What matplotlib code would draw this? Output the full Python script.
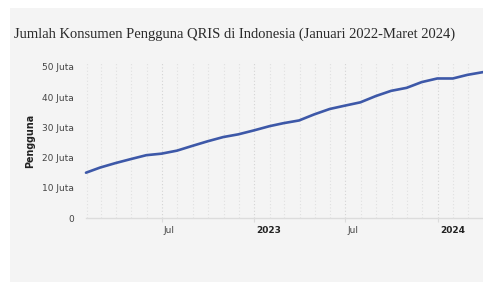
import matplotlib
matplotlib.use("Agg")
import matplotlib.pyplot as plt
import matplotlib.dates as mdates
import matplotlib.transforms as mtransforms
from matplotlib.patches import Rectangle
import pandas as pd
import numpy as np

# Data: monthly QRIS users (million), Jan 2022 - Mar 2024 (month-end dates)
months = pd.date_range("2022-01-31", "2024-03-31", freq="ME")
users_million = [15.0, 16.7, 18.2, 19.5, 20.8, 21.3, 22.3, 23.9, 25.4, 26.8, 27.7, 29.0,
                 30.4, 31.4, 32.3, 34.3, 36.1, 37.2, 38.3, 40.4, 42.1, 43.1, 45.0, 46.2,
                 46.2, 47.4, 48.3]
y_ticks = [0, 10, 20, 30, 40, 50]
y_tick_labels = ["0", "10 Juta", "20 Juta", "30 Juta", "40 Juta", "50 Juta"]
title = "Jumlah Konsumen Pengguna QRIS di Indonesia (Januari 2022-Maret 2024)"
y_label = "Pengguna"

W, H = 483, 282
fig = plt.figure(figsize=(W / 100, H / 100), dpi=100)
fig.patch.set_facecolor("white")
bg = "#f4f4f4"
fig.patches.append(Rectangle((10 / W, 0), 1 - 10 / W, 1 - 8 / H, transform=fig.transFigure,
                             facecolor=bg, edgecolor="none", zorder=-5))

ax = fig.add_axes([86 / W, 1 - 218 / H, 1 - 86 / W, (218 - 63) / H])
ax.set_zorder(2)
ax.set_facecolor(bg)

ax.plot(months, users_million, color="#3d58a8", lw=1.9, solid_capstyle="round",
        solid_joinstyle="round", zorder=3, clip_on=False)

ax.set_xlim(pd.Timestamp("2022-01-31"), pd.Timestamp("2024-03-31"))
ax.set_ylim(0, 50 * 155 / 151)

for s in ["top", "right", "left"]:
    ax.spines[s].set_visible(False)
ax.spines["bottom"].set_color("#dcdcdc")
ax.spines["bottom"].set_linewidth(1.0)

ax.set_yticks(y_ticks)
ax.set_yticklabels(y_tick_labels)
ax.tick_params(axis="y", length=0, pad=8.5, labelsize=6.5, labelcolor="#444444")

# x ticks
major = [pd.Timestamp("2022-07-01"), pd.Timestamp("2023-01-01"),
         pd.Timestamp("2023-07-01"), pd.Timestamp("2024-01-01")]
major_labels = ["Jul", "2023", "Jul", "2024"]
ax.set_xticks(major)
ax.set_xticklabels(major_labels)
ax.xaxis.set_minor_locator(mdates.MonthLocator())
ax.tick_params(axis="x", which="major", length=3, color="#dcdcdc", pad=3,
               labelsize=6.5, labelcolor="#444444")
ax.tick_params(axis="x", which="minor", length=0)
offset = mtransforms.ScaledTranslation(2 / 100, 0, fig.dpi_scale_trans)
for lbl in ax.get_xticklabels():
    lbl.set_horizontalalignment("left")
    lbl.set_transform(lbl.get_transform() + offset)
    if lbl.get_text().isdigit():
        lbl.set_fontweight("bold")
        lbl.set_color("#222222")

ax.grid(axis="x", which="minor", color="#e0e0e0", linestyle=(0, (1, 2)), lw=0.8)
ax.grid(axis="x", which="major", color="#d4d4d4", linestyle=(0, (1, 2)), lw=0.8)
ax.grid(axis="y", visible=False)

fig.text(30 / W, 1 - 141 / H, y_label, rotation=90, ha="center", va="center",
         fontsize=6.9, fontweight="bold", color="#222222")

fig.text(14 / W, 1 - 34 / H, title, ha="left", va="center",
         fontfamily="Liberation Serif", fontsize=10.55, color="#2a2a2a")

fig.savefig("out.png", dpi=100, facecolor="white")
